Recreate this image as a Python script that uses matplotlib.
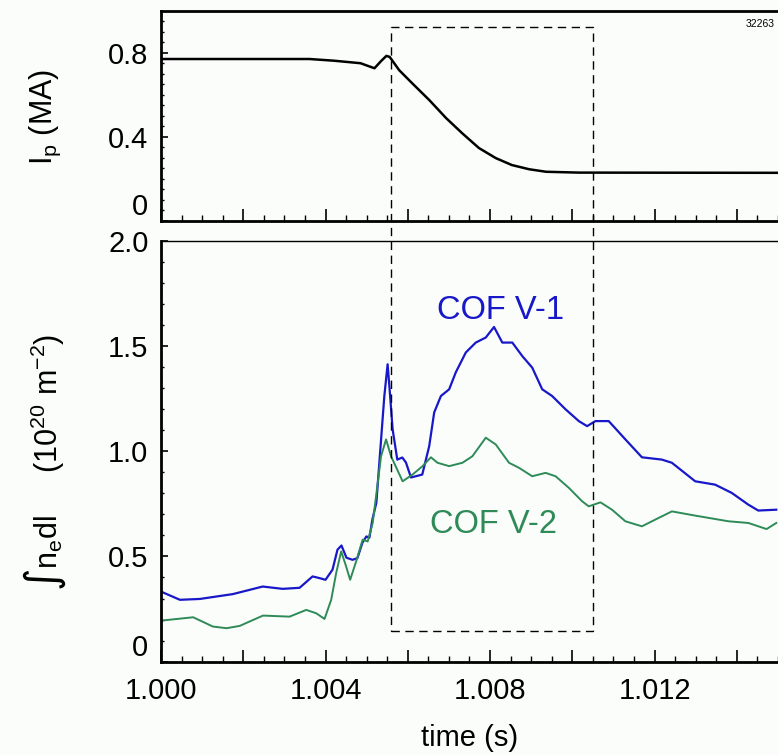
import matplotlib
matplotlib.use('Agg')
from matplotlib import pyplot as plt
from matplotlib.ticker import MultipleLocator, FuncFormatter
from matplotlib.patches import Rectangle
import numpy as np

plt.rcParams['font.family'] = ['Liberation Sans', 'DejaVu Sans']
plt.rcParams['mathtext.default'] = 'regular'

# plasma current (time in ms after 1.000 s)
ip_t = [0.0, 3.61, 4.20, 4.85, 5.19, 5.35, 5.48, 5.56, 5.79, 6.11, 6.52, 6.93,
        7.32, 7.73, 8.14, 8.53, 8.95, 9.36, 10.16, 15.0]
ip_v = [0.77, 0.77, 0.762, 0.75, 0.726, 0.76, 0.785, 0.78, 0.717, 0.654, 0.575, 0.489,
        0.417, 0.346, 0.298, 0.265, 0.245, 0.233, 0.229, 0.228]

# COF V-1
v1_t = [0.000, 0.461, 0.945, 1.745, 2.473, 2.958, 3.370, 3.685, 3.855, 4.000,
        4.170, 4.291, 4.388, 4.509, 4.655, 4.776, 4.897, 4.994, 5.067, 5.139,
        5.236, 5.309, 5.430, 5.510, 5.552, 5.632, 5.745, 5.867, 5.956, 6.078,
        6.352, 6.521, 6.642, 6.805, 7.006, 7.168, 7.411, 7.653, 7.896, 8.097,
        8.298, 8.541, 8.783, 9.025, 9.268, 9.510, 9.835, 10.158, 10.359, 10.562,
        10.885, 11.290, 11.692, 12.177, 12.420, 12.987, 13.472, 13.874, 14.279,
        14.521, 14.958]
v1_v = [0.333, 0.294, 0.298, 0.321, 0.357, 0.346, 0.351, 0.405, 0.397, 0.389,
        0.437, 0.532, 0.552, 0.494, 0.484, 0.492, 0.565, 0.595, 0.589, 0.675,
        0.755, 0.946, 1.262, 1.413, 1.31, 1.103, 0.960, 0.970, 0.946, 0.875,
        0.889, 1.024, 1.184, 1.262, 1.294, 1.375, 1.469, 1.516, 1.540, 1.590,
        1.516, 1.516, 1.452, 1.397, 1.294, 1.262, 1.199, 1.143, 1.119, 1.143,
        1.143, 1.056, 0.971, 0.960, 0.945, 0.857, 0.841, 0.802, 0.746,
        0.718, 0.722]

# COF V-2
v2_t = [0.000, 0.783, 1.261, 1.593, 1.915, 2.480, 3.127, 3.532, 3.775, 3.976,
        4.138, 4.259, 4.381, 4.502, 4.599, 4.744, 4.904, 5.025, 5.147, 5.229,
        5.350, 5.472, 5.593, 5.874, 6.116, 6.359, 6.562, 6.722, 7.006, 7.329,
        7.571, 7.896, 8.138, 8.461, 8.703, 9.025, 9.350, 9.593, 9.915, 10.238,
        10.400, 10.684, 10.965, 11.290, 11.692, 12.017, 12.420, 12.987, 13.794,
        14.279, 14.722, 14.958]
v2_v = [0.195, 0.211, 0.167, 0.159, 0.170, 0.219, 0.214, 0.246, 0.230, 0.203,
        0.294, 0.421, 0.524, 0.452, 0.389, 0.476, 0.580, 0.571, 0.659, 0.786,
        0.976, 1.056, 0.976, 0.857, 0.889, 0.929, 0.971, 0.945, 0.929, 0.945,
        0.976, 1.064, 1.032, 0.945, 0.921, 0.881, 0.897, 0.881, 0.826, 0.762,
        0.738, 0.757, 0.722, 0.667, 0.643, 0.675, 0.714, 0.694, 0.667,
        0.659, 0.630, 0.659]

# dashed window: time range (s), top in Ip units, bottom in density units
box_t = [1.00558, 1.0105]
box_top = 0.922
box_bottom = 0.145

shot = '32263'
blue = '#1818c8'
green = '#2e8b57'

fig = plt.figure(figsize=(7.78, 7.55), dpi=100)
fig.patch.set_facecolor('#fbfdfb')

ax1 = fig.add_axes([0.2069, 0.7077, 0.7931, 0.2781])
ax2 = fig.add_axes([0.2069, 0.1236, 0.7931, 0.5576])

def to_s(ms):
    return 1.0 + np.array(ms) / 1000.0

ax1.plot(to_s(ip_t), ip_v, color='black', lw=1.8)
ax2.plot(to_s(v1_t), v1_v, color=blue, lw=1.6)
ax2.plot(to_s(v2_t), v2_v, color=green, lw=1.4)

for ax in (ax1, ax2):
    ax.set_facecolor('#fbfdfb')
    ax.set_xlim(1.0, 1.015)
    ax.xaxis.set_major_locator(MultipleLocator(0.002))
    ax.xaxis.set_minor_locator(MultipleLocator(0.0005))
    ax.tick_params(which='both', direction='in', top=False, right=False,
                   labelsize=21)
    ax.tick_params(axis='x', which='major', length=9, width=1.2, pad=11)
    ax.tick_params(axis='x', which='minor', length=4.5, width=1.0)
    ax.tick_params(axis='y', which='major', length=5, width=1.2, pad=9)
    ax.tick_params(axis='y', which='minor', length=2.5, width=1.0)
    ax.spines['right'].set_visible(False)
    ax.spines['left'].set_linewidth(2)
    ax.spines['bottom'].set_linewidth(2)

ax1.spines['top'].set_linewidth(2)
ax2.spines['top'].set_linewidth(1)

ax1.set_ylim(0, 1.0)
ax1.set_yticks([0, 0.4, 0.8])
ax1.yaxis.set_minor_locator(MultipleLocator(0.05))
ax1.set_yticklabels(['0', '0.4', '0.8'])
ax1.tick_params(axis='x', labelbottom=False)

ax2.set_ylim(0, 2.0)
ax2.set_yticks([0, 0.5, 1.0, 1.5, 2.0])
ax2.yaxis.set_minor_locator(MultipleLocator(0.1))
ax2.set_yticklabels(['0', '0.5', '1.0', '1.5', '2.0'])
ax2.xaxis.set_major_formatter(FuncFormatter(
    lambda v, p: '%.3f' % v if abs(round(v * 1000) % 4) == 0 else ''))

for ax in (ax1, ax2):
    lab = ax.get_yticklabels()[0]
    lab.set_va('bottom')

ax1.text(0.995, 0.96, shot, transform=ax1.transAxes, ha='right', va='top',
         fontsize=7.5)

ax2.text(1.00826, 1.67, 'COF V-1', color=blue, fontsize=23.5, ha='center',
         va='center')
ax2.text(1.00808, 0.65, 'COF V-2', color=green, fontsize=23.5, ha='center',
         va='center')

fig.text(45 / 778, 1 - 117 / 755, r'I$_p$ (MA)', rotation=90, ha='center',
         va='center', fontsize=22)
fig.text(45 / 778, 1 - 462 / 755, '\u222bn$_e$dl     (10$^{20}$ m$^{-2}$)',
         rotation=90, ha='center', va='center', fontsize=22)
ax2.set_xlabel('time (s)', fontsize=21, labelpad=14)

# dashed window spanning both panels (figure-level)
inv = fig.transFigure.inverted()
x0, y_top = inv.transform(ax1.transData.transform((box_t[0], box_top)))
x1, y_bot = inv.transform(ax2.transData.transform((box_t[1], box_bottom)))
fig.add_artist(Rectangle((x0, y_bot), x1 - x0, y_top - y_bot,
                         transform=fig.transFigure, fill=False,
                         edgecolor='black', lw=1.0, ls=(0, (6, 4))))

fig.savefig('out.png', dpi=100, facecolor=fig.get_facecolor())
